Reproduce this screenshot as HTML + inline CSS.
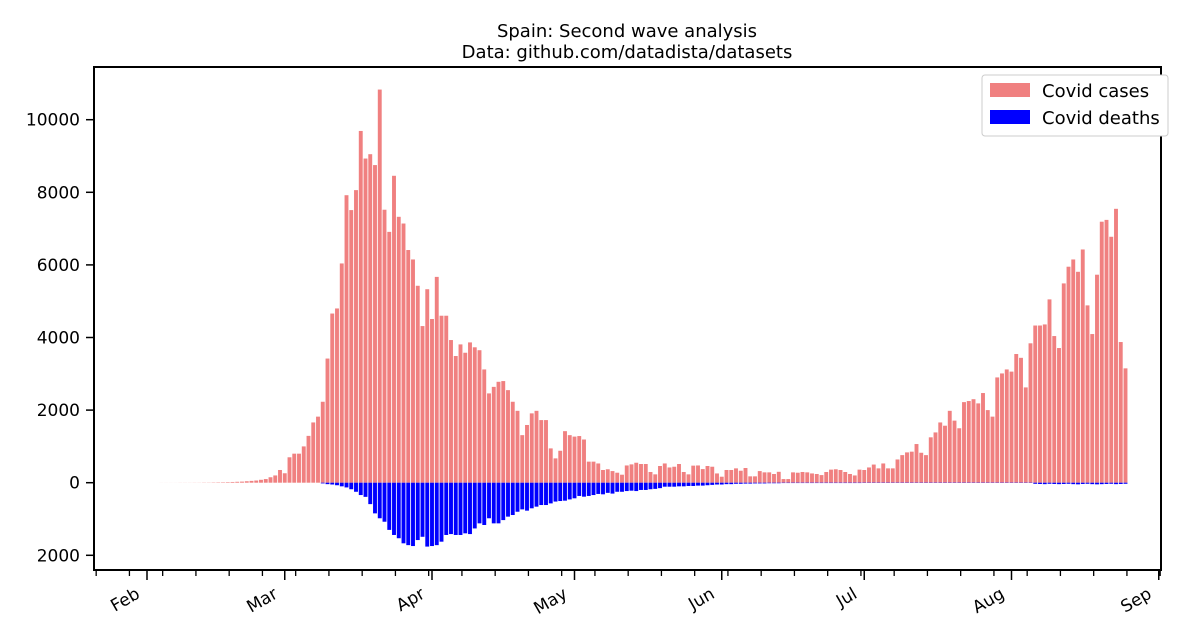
<!DOCTYPE html>
<html><head><meta charset="utf-8">
<style>
html,body{margin:0;padding:0;background:#fff;}
svg{display:block;font-family:"DejaVu Sans","Liberation Sans",sans-serif;}
</style></head>
<body>
<svg id="chart" width="1200" height="637" viewBox="0 0 1200 637" xmlns="http://www.w3.org/2000/svg">
<text x="627" y="37" font-size="18" text-anchor="middle">Spain: Second wave analysis</text>
<text x="627" y="58" font-size="18" text-anchor="middle">Data: github.com/datadista/datasets</text>
<g id="bars"></g>
<g id="axes"></g>
<rect x="94" y="67" width="1067" height="503" fill="none" stroke="#000" stroke-width="2"/>
<g>
<rect x="982" y="75" width="186" height="61" rx="3" fill="#fff" stroke="#ccc"/>
<rect x="990" y="83" width="40" height="14" fill="#f08080"/>
<text x="1042" y="97" font-size="18">Covid cases</text>
<rect x="990" y="110" width="40" height="14" fill="#0000ff"/>
<text x="1042" y="124" font-size="18">Covid deaths</text>
</g>
</svg>
<script>
const startLabel = "2020-02-01";
const cases = [0,0,0,1,1,1,1,2,2,2,3,3,5,5,8,10,12,15,20,25,30,40,50,60,80,100,150,200,
350,260,700,800,800,1000,1290,1660,1820,2230,3420,4660,4800,6040,7920,7510,8060,9690,8930,9050,8750,10830,7520,6910,8455,7325,7140,6410,6150,5425,4315,5330,4510,5670,4600,4600,3930,3490,3810,3580,3865,3730,3650,3120,2460,2640,2780,2800,2550,2230,1980,1310,1590,1910,1980,1725,1725,945,670,880,1420,1310,1270,1285,1190,580,580,530,
350,370,320,275,220,475,505,550,515,515,295,230,460,530,420,440,515,295,230,470,475,375,460,440,255,165,350,350,395,330,405,175,175,320,285,285,240,300,100,100,285,275,295,285,255,240,210,295,360,370,350,295,240,200,360,
350,420,500,395,530,395,395,640,760,835,855,1065,825,760,1250,1385,1660,1570,1980,1710,1500,2220,2250,2300,2185,2470,2000,1820,2900,3010,3120,3060,3545,3440,2625,3840,4330,4330,4360,5050,4040,3710,5490,5950,6150,5810,6425,4885,4095,5730,7190,7240,6775,7545,3875,3150];
const deaths = [0,0,0,0,0,0,0,0,0,0,0,0,0,0,0,0,0,0,0,0,0,0,0,0,0,0,0,0,0,0,0,0,0,0,0,0,0,
20,40,50,70,100,130,180,250,340,390,590,845,980,1075,1300,1440,1530,1670,1720,1745,1580,1490,1760,1745,1720,1625,1440,1415,1440,1440,1395,1415,1260,1120,1165,980,1120,1120,1030,935,890,800,735,770,705,660,615,615,570,520,505,495,460,430,365,385,365,340,310,
320,280,300,250,250,230,220,230,200,200,180,170,150,110,110,110,100,100,90,90,80,80,70,60,50,50,40,40,30,30,25,25,20,20,20,15,15,15,10,10,10,10,10,10,10,10,10,10,10,10,10,10,10,10,10,
8,8,8,8,8,8,8,8,8,8,8,8,8,8,8,8,8,8,8,8,8,8,8,8,8,8,8,8,8,8,8,8,8,8,8,8,30,35,40,30,35,40,35,30,40,45,35,30,40,45,40,35,30,40,35,30];
const yTickValues = [-2000,0,2000,4000,6000,8000,10000];
const yTickLabels = ["2000","0","2000","4000","6000","8000","10000"];
const monthLabels = ["Feb","Mar","Apr","May","Jun","Jul","Aug","Sep"];
const monthDays = [0,29,60,90,121,151,182,213];

const NS="http://www.w3.org/2000/svg";
function x(d){return 147+d*4.75;}
function y(v){return 482.7-v*0.0363;}
const bars=document.getElementById('bars');
const axes=document.getElementById('axes');
function mk(tag,attrs,parent){const e=document.createElementNS(NS,tag);for(const k in attrs)e.setAttribute(k,attrs[k]);parent.appendChild(e);return e;}
const bw=3.9;
cases.forEach((v,i)=>{
  const r=mk('rect',{x:x(i)-bw/2,y:y(v),width:bw,height:Math.max(0,y(0)-y(v)),fill:'#f08080'},bars);
  
  
});
deaths.forEach((v,i)=>{
  const r=mk('rect',{x:x(i)-bw/2,y:y(0),width:bw,height:Math.max(0,y(-v)-y(0)),fill:'#0000ff'},bars);
  
  
});
yTickValues.forEach((v,i)=>{
  const t=mk('line',{x1:86,x2:94,y1:y(v),y2:y(v),stroke:'#000','stroke-width':1.5},axes);
  
  
  const l=mk('text',{x:80,y:y(v)+6,'font-size':17,'text-anchor':'end'},axes);
  l.textContent=yTickLabels[i];
  
  
});
for(let d=-10.7;d<214;d+=7){
  const t=mk('line',{x1:x(d),x2:x(d),y1:570,y2:576,stroke:'#000','stroke-width':1.3},axes);
  
  
}
monthDays.forEach((d,i)=>{
  const t=mk('line',{x1:x(d),x2:x(d),y1:570,y2:580,stroke:'#000','stroke-width':1.5},axes);
  
  
  const l=mk('text',{x:x(d)-6,y:597,'font-size':17,'text-anchor':'end',transform:'rotate(-30 '+(x(d)-6)+' 597)'},axes);
  l.textContent=monthLabels[i];
  
  
});
</script>
</body></html>
